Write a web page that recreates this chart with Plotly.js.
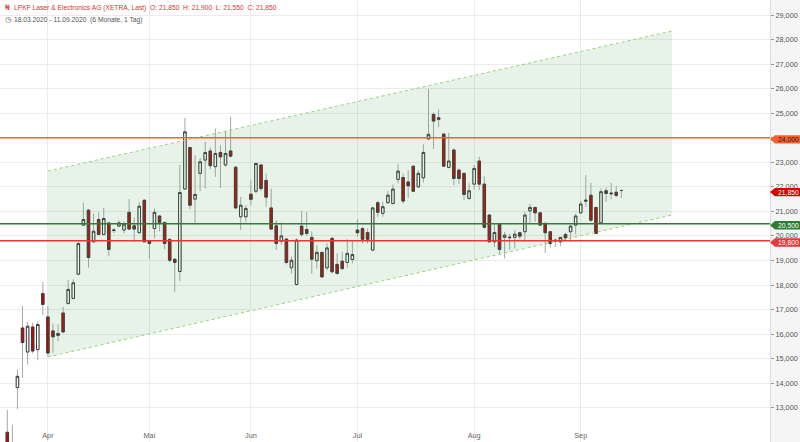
<!DOCTYPE html>
<html>
<head>
<meta charset="utf-8">
<script src="https://cdn.plot.ly/plotly-3.0.1.min.js"></script>
<style>
  html, body { margin: 0; padding: 0; background: #fff; }
  #chart { width: 800px; height: 442px; }
</style>
</head>
<body>
<div id="chart"></div>
<script>
// Handelstage (XETRA), 20.03. - 11.09.2020
var dates = [
  '2020-03-20','2020-03-23','2020-03-24','2020-03-25','2020-03-26','2020-03-27','2020-03-30','2020-03-31',
  '2020-04-01','2020-04-02','2020-04-03','2020-04-06','2020-04-07','2020-04-08','2020-04-09','2020-04-14','2020-04-15','2020-04-16','2020-04-17','2020-04-20','2020-04-21','2020-04-22','2020-04-23','2020-04-24','2020-04-27','2020-04-28','2020-04-29','2020-04-30',
  '2020-05-04','2020-05-05','2020-05-06','2020-05-07','2020-05-08','2020-05-11','2020-05-12','2020-05-13','2020-05-14','2020-05-15','2020-05-18','2020-05-19','2020-05-20','2020-05-21','2020-05-22','2020-05-25','2020-05-26','2020-05-27','2020-05-28','2020-05-29',
  '2020-06-02','2020-06-03','2020-06-04','2020-06-05','2020-06-08','2020-06-09','2020-06-10','2020-06-11','2020-06-12','2020-06-15','2020-06-16','2020-06-17','2020-06-18','2020-06-19','2020-06-22','2020-06-23','2020-06-24','2020-06-25','2020-06-26','2020-06-29','2020-06-30',
  '2020-07-01','2020-07-02','2020-07-03','2020-07-06','2020-07-07','2020-07-08','2020-07-09','2020-07-10','2020-07-13','2020-07-14','2020-07-15','2020-07-16','2020-07-17','2020-07-20','2020-07-21','2020-07-22','2020-07-23','2020-07-24','2020-07-27','2020-07-28','2020-07-29','2020-07-30','2020-07-31',
  '2020-08-03','2020-08-04','2020-08-05','2020-08-06','2020-08-07','2020-08-10','2020-08-11','2020-08-12','2020-08-13','2020-08-14','2020-08-17','2020-08-18','2020-08-19','2020-08-20','2020-08-21','2020-08-24','2020-08-25','2020-08-26','2020-08-27','2020-08-28','2020-08-31',
  '2020-09-01','2020-09-02','2020-09-03','2020-09-04','2020-09-07','2020-09-08','2020-09-09','2020-09-10','2020-09-11'
];

var open = [
  12.00,11.40,13.82,16.25,15.27,16.29,15.37,17.65,
  16.70,16.13,16.02,16.86,17.25,17.45,18.44,20.44,21.05,19.76,20.67,20.06,20.53,20.22,20.40,20.24,20.96,20.41,20.13,21.45,
  19.81,20.30,20.81,20.55,19.86,19.05,18.55,21.91,23.60,21.50,22.55,23.09,23.46,22.82,23.40,22.89,23.46,22.80,20.78,20.78,
  21.70,21.82,22.89,22.26,21.14,20.41,19.79,19.87,18.70,18.02,20.40,20.26,19.94,18.99,19.33,18.70,19.90,18.84,18.97,18.92,19.04,
  20.24,20.30,20.14,19.42,21.35,20.92,21.35,21.32,22.30,22.38,22.20,22.84,22.00,22.37,23.95,24.95,24.81,24.15,22.79,23.50,22.68,22.55,21.53,
  22.11,23.05,22.11,20.85,19.76,20.48,19.94,19.95,19.94,20.13,20.17,21.02,21.16,20.94,20.51,20.17,19.83,19.76,20.06,20.17,20.44,
  20.94,21.46,21.66,21.16,20.53,21.84,21.75,21.78,21.85
];
var high = [
  12.92,12.31,14.56,17.15,16.50,16.46,16.50,18.13,
  17.14,16.43,16.40,17.11,18.20,18.23,19.76,21.35,21.10,20.91,20.96,21.14,20.57,20.32,20.64,20.60,21.50,20.74,21.39,21.50,
  19.83,21.12,20.85,20.57,19.90,19.08,22.89,24.81,23.64,23.29,23.18,23.84,23.60,24.38,23.70,24.24,24.85,22.84,21.59,21.25,
  22.27,22.99,22.91,22.55,21.93,20.64,20.55,19.92,19.16,19.90,21.01,20.98,20.19,19.62,19.35,19.69,19.96,19.29,19.35,19.87,19.79,
  20.68,20.37,20.30,21.19,21.42,21.39,21.82,22.10,22.93,22.55,22.68,22.86,22.68,23.73,25.98,25.03,25.15,24.18,24.20,23.57,22.75,22.57,22.14,
  22.89,23.22,22.44,20.89,20.51,20.53,20.17,20.10,20.24,20.17,20.98,21.30,21.19,20.98,20.57,20.21,19.90,19.96,20.13,20.44,20.91,
  21.43,22.48,22.16,21.18,21.93,21.98,22.16,22.03,21.90
];
var low = [
  11.30,11.20,12.95,14.21,14.76,15.21,14.94,16.77,
  15.10,15.23,15.72,16.05,17.20,17.42,18.40,20.40,18.71,19.72,20.03,20.02,19.18,20.12,20.37,20.10,20.25,19.76,20.10,19.74,
  19.05,19.90,20.19,19.46,18.92,17.72,18.16,21.88,21.09,20.47,21.82,21.93,22.72,22.41,21.96,22.82,23.20,21.10,20.24,20.55,
  21.25,21.73,21.82,21.19,20.24,19.42,19.65,18.84,18.47,17.98,19.96,20.00,18.47,18.67,18.30,18.60,18.47,18.43,18.60,18.70,18.88,
  19.96,19.69,19.69,19.40,20.78,20.78,21.32,21.28,22.14,21.32,21.55,21.80,21.97,22.18,23.93,23.54,24.43,22.82,22.75,22.07,22.11,21.46,21.46,
  21.89,21.86,20.30,19.74,19.55,19.26,19.08,19.42,19.49,19.86,19.76,20.48,20.57,20.40,19.31,19.53,19.55,19.58,19.83,19.76,20.07,
  20.89,21.19,20.57,20.07,20.51,21.39,21.49,21.57,21.55
];
var close = [
  11.50,11.55,14.28,15.66,16.32,15.31,16.39,17.21,
  15.23,15.89,15.95,16.09,17.82,18.09,19.69,20.67,19.12,20.19,20.06,20.71,19.45,20.24,20.53,20.48,20.28,20.28,21.21,19.76,
  19.69,20.96,20.55,19.69,19.01,18.92,21.77,24.24,21.25,21.69,23.02,23.40,22.86,23.36,23.22,23.36,23.25,21.14,21.25,21.12,
  21.49,22.95,21.93,21.58,20.28,19.69,20.00,18.92,19.01,19.83,20.06,20.10,19.05,19.33,18.33,19.51,18.54,18.47,18.67,19.29,19.24,
  20.13,19.86,19.86,21.14,20.96,21.19,21.66,21.91,22.64,21.42,22.04,21.82,22.55,23.40,24.14,24.68,24.75,22.84,23.05,22.34,22.34,21.69,21.84,
  22.75,22.11,20.35,19.76,20.14,19.45,20.03,19.93,20.07,19.99,20.85,21.16,20.94,20.44,20.13,19.69,19.80,19.94,19.92,20.40,20.81,
  21.30,21.42,20.64,20.10,21.80,21.73,21.72,21.65,21.85
];

var monthNames = ['Apr', 'Mai', 'Jun', 'Jul', 'Aug', 'Sep'];
var priceTicks = [12, 13, 14, 15, 16, 17, 18, 19, 20, 21, 22, 23, 24, 25, 26, 27, 28, 29];

// Trendkanal (Handelstag-Index, Kurs)
var channelX = [8, 131];
var channelTop = [22.645, 28.348];
var channelBottom = [15.07, 20.852];

// Horizontale Marken
var levels = [24.0, 20.5, 19.8];
var levelColors = ['#f4622f', '#2f7d32', '#e53935'];
var levelTextColors = ['#3a1005', '#ffffff', '#ffffff'];
var lastPrice = 21.85;

var yMin = 11.605, yMax = 29.611;
var txtFont = 'Liberation Sans, Arial, sans-serif';

var idx = dates.map(function (d, i) { return i; });

// Monatsanfaenge fuer die X-Achse
var tickVals = [];
for (var i = 1; i < dates.length; i++) {
  if (dates[i].slice(5, 7) !== dates[i - 1].slice(5, 7)) tickVals.push(i);
}

// Achsenbeschriftung, die unter einer gleichlautenden Kursmarke liegt, entfaellt
var yTickText = priceTicks.map(function (v) {
  return levels.indexOf(v) >= 0 ? '' : v.toFixed(3).replace('.', ',');
});

var bodyHigh = open.map(function (o, i) { return Math.max(o, close[i]); });
var bodyLow = open.map(function (o, i) { return Math.min(o, close[i]); });

var channel = {
  x: [channelX[0], channelX[1], channelX[1], channelX[0], channelX[0]],
  y: [channelTop[0], channelTop[1], channelBottom[1], channelBottom[0], channelTop[0]],
  mode: 'lines', fill: 'toself', fillcolor: 'rgba(60,160,70,0.12)',
  line: { width: 0 }, hoverinfo: 'skip'
};
var channelUp = {
  x: channelX, y: channelTop, mode: 'lines',
  line: { color: '#9ad27c', width: 1, dash: 'dot' }, hoverinfo: 'skip'
};
var channelDown = {
  x: channelX, y: channelBottom, mode: 'lines',
  line: { color: '#9ad27c', width: 1, dash: 'dot' }, hoverinfo: 'skip'
};

// Dochte (grau)
var wicks = {
  type: 'candlestick', x: idx, open: open, high: high, low: low, close: close,
  increasing: { line: { color: '#a8a8a8', width: 1 }, fillcolor: '#a8a8a8' },
  decreasing: { line: { color: '#a8a8a8', width: 1 }, fillcolor: '#a8a8a8' },
  whiskerwidth: 0, hoverinfo: 'skip'
};
// Kerzenkoerper
var bodies = {
  type: 'candlestick', x: idx, open: open, high: bodyHigh, low: bodyLow, close: close,
  increasing: { line: { color: '#3c3c3c', width: 1 }, fillcolor: '#ffffff' },
  decreasing: { line: { color: '#3c3c3c', width: 1 }, fillcolor: '#cc0000' },
  whiskerwidth: 0, hoverinfo: 'skip'
};

var shapes = [];
var annotations = [];

// Kursmarke rechts (Pfeilform), leicht nach unten versetzt wie im Original
function addTag(price, bg, fg) {
  var py = (price - yMin) / (yMax - yMin);
  shapes.push({
    type: 'path', xref: 'paper', yref: 'paper', xsizemode: 'pixel', ysizemode: 'pixel',
    xanchor: 1, yanchor: py, path: 'M0,-1.6 L5,2.6 L31,2.6 L31,-5.8 L5,-5.8 Z',
    fillcolor: bg, line: { width: 0 }
  });
  annotations.push({
    xref: 'paper', yref: 'paper', x: 1, y: py, xanchor: 'left', yanchor: 'middle',
    xshift: 5.5, yshift: -1.6, showarrow: false, text: price.toFixed(3).replace('.', ','),
    font: { family: txtFont, size: 6.8, color: fg }
  });
}

levels.forEach(function (lv, i) {
  shapes.push({
    type: 'line', xref: 'paper', yref: 'y', x0: 0, x1: 1, y0: lv, y1: lv,
    line: { color: levelColors[i], width: 1.5 }
  });
  addTag(lv, levelColors[i], levelTextColors[i]);
});
addTag(lastPrice, '#d20000', '#ffffff');

annotations.push({
  xref: 'paper', yref: 'paper', x: 0, y: 1, xanchor: 'left', yanchor: 'middle',
  xshift: 3, yshift: -7.5, showarrow: false,
  text: '\u20a6',
  font: { family: 'DejaVu Sans, sans-serif', size: 7.5, color: '#e0312b' }
});
annotations.push({
  xref: 'paper', yref: 'paper', x: 0, y: 1, xanchor: 'left', yanchor: 'middle',
  xshift: 12, yshift: -7.5, showarrow: false,
  text: 'LPKF Laser &amp; Electronics AG (XETRA, Last)\u00a0 O: 21,850\u00a0 H: 21,900\u00a0 L: 21,550\u00a0 C: 21,850',
  font: { family: txtFont, size: 6.7, color: '#e0312b' }
});
annotations.push({
  xref: 'paper', yref: 'paper', x: 0, y: 1, xanchor: 'left', yanchor: 'middle',
  xshift: 3, yshift: -19.5, showarrow: false,
  text: '\u25f7',
  font: { family: 'DejaVu Sans, sans-serif', size: 7.5, color: '#555' }
});
annotations.push({
  xref: 'paper', yref: 'paper', x: 0, y: 1, xanchor: 'left', yanchor: 'middle',
  xshift: 12, yshift: -19.5, showarrow: false,
  text: '18.03.2020 - 11.09.2020\u00a0 (6 Monate, 1 Tag)',
  font: { family: txtFont, size: 6.7, color: '#555' }
});

var layout = {
  width: 800, height: 442,
  margin: { l: 0, r: 30, t: 0, b: 0 },
  paper_bgcolor: '#f5f5f5', plot_bgcolor: '#ffffff',
  separators: ',.',
  showlegend: false, hovermode: false,
  xaxis: {
    type: 'linear', range: [-1.44, 150.3],
    tickvals: tickVals, ticktext: monthNames,
    ticklabelposition: 'inside', ticks: '',
    showgrid: true, gridcolor: '#ececec', gridwidth: 1, zeroline: false,
    rangeslider: { visible: false },
    tickfont: { family: txtFont, size: 7.3, color: '#666' }
  },
  yaxis: {
    side: 'right', range: [yMin, yMax],
    tickvals: priceTicks, ticktext: yTickText,
    showgrid: true, gridcolor: '#ececec', zeroline: false,
    ticks: 'outside', ticklen: 3, tickcolor: '#999',
    showline: true, linecolor: '#dddddd',
    tickfont: { family: txtFont, size: 7.3, color: '#555' }
  },
  shapes: shapes,
  annotations: annotations
};

Plotly.newPlot('chart', [channel, channelUp, channelDown, wicks, bodies], layout, { staticPlot: true });
</script>
</body>
</html>
